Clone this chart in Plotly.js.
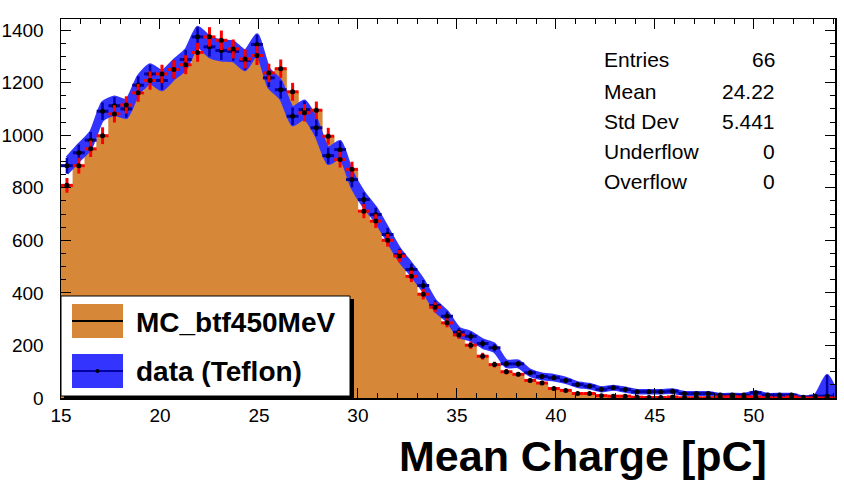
<!DOCTYPE html>
<html>
<head>
<meta charset="utf-8">
<script src="https://cdn.plot.ly/plotly-3.0.1.min.js"></script>
<style>
  html, body { margin: 0; padding: 0; background: #ffffff; }
  #plot { width: 844px; height: 484px; }
</style>
</head>
<body>
<div id="plot"></div>
<script>
// Histogram binning: 66 bins of 0.6 pC starting at 15 pC
const binLow = 15;
const binWidth = 0.6;

// Simulated spectrum (MC_btf450MeV), counts per bin
const mcCounts = [
  809, 884, 948, 998, 1081, 1115, 1161, 1208, 1233, 1250,
  1268, 1315, 1374, 1361, 1328, 1290, 1303, 1237, 1253, 1165,
  1085, 1095, 996, 907, 870, 711, 673, 600, 540, 463,
  395, 345, 286, 240, 201, 159, 127, 100, 90, 67,
  57, 36, 29, 17, 17, 9, 7, 7, 3, 2,
  2, 4, 1, 1, 1, 4, 5, 4, 4, 1,
  0, 4, 0, 0, 0, 0
];
const mcErr = [
  28, 30, 31, 32, 33, 33, 34, 35, 35, 35,
  36, 36, 37, 37, 36, 36, 36, 35, 35, 34,
  33, 33, 32, 30, 29, 27, 26, 24, 23, 22,
  20, 19, 17, 15, 14, 13, 11, 10, 9, 8,
  8, 6, 5, 4, 4, 3, 3, 3, 2, 1,
  1, 2, 1, 1, 1, 2, 2, 2, 2, 1,
  0, 2, 0, 0, 0, 0
];

// Measured spectrum, data (Teflon), counts per bin
const dataCounts = [
  884, 933, 981, 1091, 1112, 1100, 1190, 1233, 1208, 1250,
  1288, 1374, 1336, 1322, 1319, 1285, 1345, 1218, 1173, 1072,
  1097, 1028, 922, 945, 831, 755, 698, 622, 545, 489,
  428, 352, 311, 250, 235, 207, 191, 130, 130, 96,
  82, 77, 67, 51, 45, 33, 39, 32, 24, 24,
  24, 26, 17, 17, 17, 11, 11, 11, 20, 11,
  11, 11, 3, 7, 7, 0
];
const dataErr = [
  30, 31, 31, 33, 33, 33, 34, 35, 35, 35,
  36, 37, 37, 36, 36, 36, 37, 35, 34, 33,
  33, 32, 30, 31, 29, 27, 26, 25, 23, 22,
  21, 19, 18, 16, 15, 14, 14, 11, 11, 10,
  9, 9, 8, 7, 7, 6, 6, 6, 5, 5,
  5, 5, 4, 4, 4, 3, 3, 3, 4, 3,
  3, 3, 2, 3, 80, 0
];

// Statistics box contents
const statLabels = ["Entries", "Mean", "Std Dev", "Underflow", "Overflow"];
const statValues = ["66", "24.22", "5.441", "0", "0"];

const orange = "rgb(214,135,56)";
const bandBlue = "rgb(52,52,255)";
const navy = "rgb(0,0,165)";
const red = "rgb(255,0,0)";

const centers = mcCounts.map((_, i) => binLow + binWidth * (i + 0.5));
const edges = mcCounts.map((_, i) => binLow + binWidth * i).concat([binLow + binWidth * mcCounts.length]);
const stepY = mcCounts.concat([mcCounts[mcCounts.length - 1]]);
const bandLow = dataCounts.map((v, i) => v - dataErr[i]);
const bandHigh = dataCounts.map((v, i) => v + dataErr[i]);

const traces = [
  { // filled MC histogram
    x: edges, y: stepY, type: "scatter", mode: "lines",
    line: { shape: "hv", width: 0.5, color: orange },
    fill: "tozeroy", fillcolor: orange, hoverinfo: "skip", showlegend: false
  },
  { // data error band, lower edge (smoothed)
    x: centers, y: bandLow, type: "scatter", mode: "lines",
    line: { width: 3, color: bandBlue, shape: "spline", smoothing: 0.6 },
    hoverinfo: "skip", showlegend: false
  },
  { // data error band, upper edge (smoothed)
    x: centers, y: bandHigh, type: "scatter", mode: "lines",
    line: { width: 3, color: bandBlue, shape: "spline", smoothing: 0.6 },
    fill: "tonexty", fillcolor: bandBlue, hoverinfo: "skip", showlegend: false
  },
  { // data points
    x: centers, y: dataCounts, type: "scatter", mode: "markers",
    marker: { color: "black", size: 5 },
    error_y: { type: "data", array: dataErr, color: navy, thickness: 2.5, width: 0 },
    error_x: { type: "constant", value: binWidth / 2, color: navy, thickness: 3, width: 0 },
    showlegend: false
  },
  { // MC points with errors
    x: centers, y: mcCounts, type: "scatter", mode: "markers",
    marker: { color: "black", size: 5 },
    error_y: { type: "data", array: mcErr, color: red, thickness: 3, width: 0 },
    error_x: { type: "constant", value: binWidth / 2, color: red, thickness: 3, width: 0 },
    showlegend: false
  }
];

// Plot area in pixels
const W = 844, H = 484;
const L = 61, R = 9, T = 19, B = 86;
const pw = W - L - R, ph = H - T - B;
const px = x => (x - L) / pw;
const py = y => (H - B - y) / ph;

const tickFont = { family: "Liberation Sans, Arial, sans-serif", size: 19, color: "black" };
const textFont = { family: "Liberation Sans, Arial, sans-serif", size: 21, color: "black" };
const boldFont = { family: "Liberation Sans, Arial, sans-serif", size: 28, color: "black", weight: "bold" };

const shapes = [
  // legend shadow and box
  { type: "rect", xref: "paper", yref: "paper", x0: px(64), x1: px(354), y0: py(400), y1: py(299),
    fillcolor: "black", line: { width: 0 } },
  { type: "rect", xref: "paper", yref: "paper", x0: px(61), x1: px(350), y0: py(396), y1: py(296),
    fillcolor: "white", line: { width: 1, color: "black" } },
  // MC swatch
  { type: "rect", xref: "paper", yref: "paper", x0: px(72), x1: px(123), y0: py(338), y1: py(304),
    fillcolor: orange, line: { width: 0 } },
  { type: "line", xref: "paper", yref: "paper", x0: px(72), x1: px(123), y0: py(321), y1: py(321),
    line: { width: 2, color: "black" } },
  // data swatch
  { type: "rect", xref: "paper", yref: "paper", x0: px(72), x1: px(123), y0: py(388), y1: py(354),
    fillcolor: bandBlue, line: { width: 0 } },
  { type: "line", xref: "paper", yref: "paper", x0: px(72), x1: px(123), y0: py(371), y1: py(371),
    line: { width: 2, color: navy } },
  { type: "circle", xref: "paper", yref: "paper", x0: px(95.5), x1: px(99.5), y0: py(373), y1: py(369),
    fillcolor: "black", line: { width: 0 } }
];

const annotations = [
  { text: "MC_btf450MeV", xref: "paper", yref: "paper", x: px(134), y: py(322),
    xanchor: "left", yanchor: "middle", showarrow: false, font: boldFont },
  { text: "data (Teflon)", xref: "paper", yref: "paper", x: px(134), y: py(371),
    xanchor: "left", yanchor: "middle", showarrow: false, font: boldFont },
  { text: "Mean Charge [pC]", xref: "paper", yref: "paper", x: px(769), y: py(456),
    xanchor: "right", yanchor: "middle", showarrow: false,
    font: { family: "Liberation Sans, Arial, sans-serif", size: 43, color: "black", weight: "bold" } }
];
const statY = [60, 91, 121, 152, 182];
statLabels.forEach((s, i) => {
  annotations.push({ text: s, xref: "paper", yref: "paper", x: px(602), y: py(statY[i]),
    xanchor: "left", yanchor: "middle", showarrow: false, font: textFont });
  annotations.push({ text: statValues[i], xref: "paper", yref: "paper", x: px(777), y: py(statY[i]),
    xanchor: "right", yanchor: "middle", showarrow: false, font: textFont });
});

const layout = {
  width: W, height: H,
  margin: { l: L, r: R, t: T, b: B, pad: 0 },
  paper_bgcolor: "white", plot_bgcolor: "white",
  showlegend: false,
  xaxis: {
    range: [15, 54.1], tick0: 15, dtick: 5, ticks: "inside", ticklen: 10, tickwidth: 1, tickcolor: "black",
    minor: { dtick: 1, ticks: "inside", ticklen: 5, tickwidth: 1, tickcolor: "black" },
    showline: true, linewidth: 1.5, linecolor: "black", mirror: "ticks",
    showgrid: false, zeroline: false, tickfont: tickFont, ticklabelstandoff: 0
  },
  yaxis: {
    range: [0, 1442], tick0: 0, dtick: 200, ticks: "inside", ticklen: 10, tickwidth: 1, tickcolor: "black",
    minor: { dtick: 50, ticks: "inside", ticklen: 5, tickwidth: 1, tickcolor: "black" },
    showline: true, linewidth: 1.5, linecolor: "black", mirror: "ticks",
    showgrid: false, zeroline: false, tickfont: tickFont, ticklabelstandoff: 12
  },
  shapes: shapes,
  annotations: annotations
};

Plotly.newPlot("plot", traces, layout, { staticPlot: true, displayModeBar: false });
</script>
</body>
</html>
